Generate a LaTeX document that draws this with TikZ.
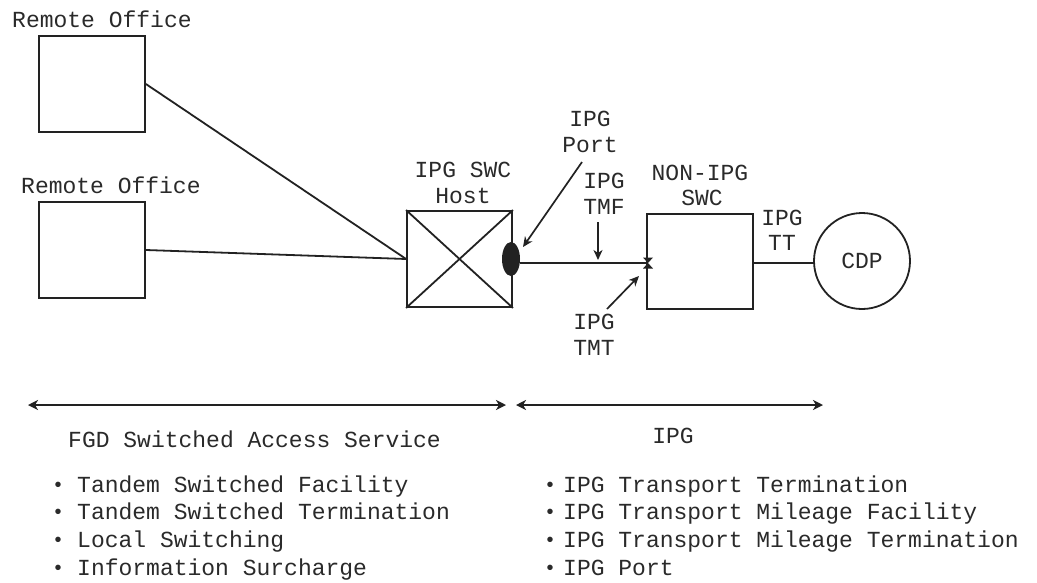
\documentclass[tikz,border=0pt]{standalone}
\usepackage{fontspec}
\setmonofont{Liberation Mono}
\usetikzlibrary{arrows.meta,shapes.geometric}
\definecolor{ink}{HTML}{222222}
\definecolor{txt}{HTML}{2a2a2a}
\begin{document}
\begin{tikzpicture}[x=1pt,y=-1pt,
  ln/.style={line width=1.8pt, draw=ink},
  arr/.style={line width=1.7pt, draw=ink, -{Stealth[length=10pt,width=9pt,inset=3pt]}},
  darr/.style={line width=1.8pt, draw=ink, {Stealth[length=10pt,width=10pt,inset=3pt]}-{Stealth[length=10pt,width=10pt,inset=3pt]}},
  lab/.style={font=\fontsize{23}{25}\selectfont\ttfamily, text=txt, inner sep=0pt, anchor=base},
  boxnode/.style 2 args={draw=ink, line width=1.8pt, inner sep=0pt, minimum width=#1, minimum height=#2},
  bul/.style={font=\fontsize{23}{25}\selectfont\ttfamily, text=txt, inner sep=0pt, anchor=base west}
]
\useasboundingbox (0,0) rectangle (1037,582);
\fill[white] (0,0) rectangle (1037,582);

% boxes
\node[boxnode={106}{96}] (o1) at (92,84) {};
\node[boxnode={106}{96}] (o2) at (92,250) {};
\node[boxnode={105}{96}] (host) at (459.5,259) {};
\draw[ln] (host.north west) -- (host.south east) (host.north east) -- (host.south west);
\node[boxnode={106}{95}] (nsw) at (700,261.5) {};
\node[circle, draw=ink, line width=1.8pt, minimum size=96pt, inner sep=0pt,
      font=\fontsize{23}{25}\selectfont\ttfamily, text=txt] (cdp) at (862,261) {CDP};
\node[ellipse, fill=ink, minimum width=18pt, minimum height=34pt, inner sep=0pt] (port) at (511,259) {};

% labels
\node[lab, anchor=base west] (lo1) at (12,27) {Remote Office};
\node[lab, anchor=base west] (lo2) at (21,193) {Remote Office};
\node[lab] (lh1) at (463,177) {IPG SWC};
\node[lab] (lh2) at (463,203) {Host};
\node[lab] (lp1) at (590,126) {IPG};
\node[lab] (lp2) at (590,152) {Port};
\node[lab] (lf1) at (604,188) {IPG};
\node[lab] (lf2) at (604,214) {TMF};
\node[lab] (lt1) at (594,329) {IPG};
\node[lab] (lt2) at (594,355) {TMT};
\node[lab] (ln1) at (700,180) {NON-IPG};
\node[lab] (ln2) at (702,205) {SWC};
\node[lab] (ltt1) at (782,225) {IPG};
\node[lab] (ltt2) at (782,250) {TT};
\node[lab, anchor=base west] (lfgd) at (68,447) {FGD Switched Access Service};
\node[lab] (lipg) at (673,443) {IPG};

% connectors
\draw[ln] (o1.east) -- (host.west);
\draw[ln] (o2.east) -- (host.west);
\coordinate (xm) at (648,263);
\draw[ln] (port.east |- xm) -- (xm);
\fill[ink] (643,257.5) -- (653,257.5) -- (648,263) -- cycle;
\fill[ink] (643,268.5) -- (653,268.5) -- (648,263) -- cycle;
\draw[ln] (nsw.east |- 0,263) -- (cdp.west |- 0,263);

% pointer arrows
\coordinate (pa) at (582,162); \coordinate (pb) at (523,247);
\draw[arr] (pa) -- (pb);
\coordinate (fa) at (598,222); \coordinate (fb) at (598,260);
\draw[arr] (fa) -- (fb);
\coordinate (ta) at (607,309); \coordinate (tb) at (639,276);
\draw[arr] (ta) -- (tb);

% span arrows
\coordinate (s1a) at (28,405); \coordinate (s1b) at (506,405);
\coordinate (s2a) at (516,405); \coordinate (s2b) at (823,405);
\draw[darr] (s1a) -- (s1b);
\draw[darr] (s2a) -- (s2b);

% lists
\foreach \t [count=\i] in {Tandem Switched Facility, Tandem Switched Termination, Local Switching, Information Surcharge}
  \node[bul] (la\i) at (52, 492+27.7*\i-27.7) {{\fontsize{20}{20}\selectfont\raisebox{1pt}{•}}\hspace{13pt}\t};
\foreach \t [count=\i] in {IPG Transport Termination, IPG Transport Mileage Facility, IPG Transport Mileage Termination, IPG Port}
  \node[bul] (lb\i) at (544, 492+27.7*\i-27.7) {{\fontsize{20}{20}\selectfont\raisebox{1pt}{•}}\hspace{7pt}\t};
\end{tikzpicture}
\end{document}
